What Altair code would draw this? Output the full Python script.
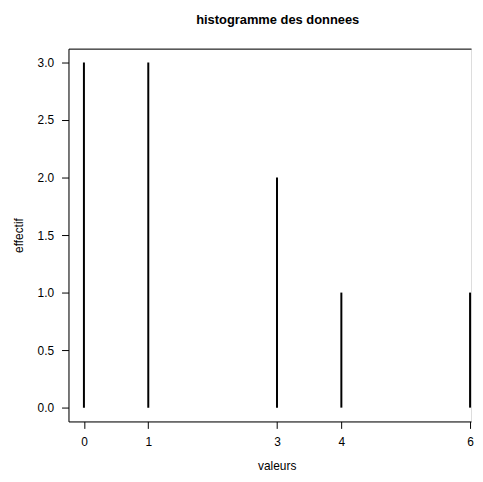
import altair as alt
import pandas as pd

valeurs = [0, 1, 3, 4, 6]
effectifs = [3, 3, 2, 1, 1]
x_ticks = [0, 1, 3, 4, 6]
y_ticks = [0.0, 0.5, 1.0, 1.5, 2.0, 2.5, 3.0]

df = pd.DataFrame({"valeurs": valeurs, "effectif": effectifs, "zero": [0] * len(valeurs)})

FONT = "Liberation Sans"
xscale = alt.Scale(domain=[-0.24, 6.015], nice=False, zero=False)
yscale = alt.Scale(domain=[-0.12, 3.12], nice=False, zero=False)

bars = alt.Chart(df).mark_rule(color="black", strokeWidth=2).encode(
    x=alt.X("valeurs:Q", scale=xscale,
            axis=alt.Axis(values=x_ticks, format="d", title="valeurs", grid=False,
                          domain=True, domainColor="black", domainWidth=1,
                          tickSize=7, tickColor="black", tickWidth=1,
                          labelColor="black", labelFontSize=12, labelFont=FONT,
                          labelPadding=8, labelFlush=False,
                          titleFont=FONT, titleFontSize=12, titleFontWeight="normal",
                          titleColor="black", titleX=210, titleY=48,
                          titleBaseline="alphabetic", titleAlign="center")),
    y=alt.Y("zero:Q", scale=yscale,
            axis=alt.Axis(values=y_ticks, format=".1f", title="effectif", grid=False,
                          domain=True, domainColor="black", domainWidth=1,
                          tickSize=7, tickColor="black", tickWidth=1,
                          labelColor="black", labelFontSize=12, labelFont=FONT,
                          labelPadding=8, labelFlush=False,
                          titleFont=FONT, titleFontSize=12, titleFontWeight="normal",
                          titleColor="black", titleX=-50, titleY=188, titleAngle=-90,
                          titleBaseline="middle", titleAlign="center")),
    y2="effectif:Q",
)

# top frame line via a top-oriented axis showing only its domain
top = alt.Chart(df).mark_rule(opacity=0).encode(
    x=alt.X("valeurs:Q", scale=xscale,
            axis=alt.Axis(orient="top", title=None, labels=False, ticks=False, grid=False,
                          domain=True, domainColor="black", domainWidth=1)),
    y=alt.value(0),
    y2=alt.value(0),
)

chart = alt.layer(bars, top).resolve_axis(x="independent").properties(
    width=406,
    height=376,
    title=alt.TitleParams("histogramme des donnees", font=FONT, fontSize=13,
                          fontWeight="bold", color="black", anchor="middle",
                          offset=22, dx=8),
    autosize=alt.AutoSizeParams(type="none"),
    padding={"left": 61, "top": 39, "right": 4, "bottom": 50},
).configure_view(stroke=None).configure(background="white")

chart.save("out.html", embed_options={"renderer": "svg", "actions": False})
